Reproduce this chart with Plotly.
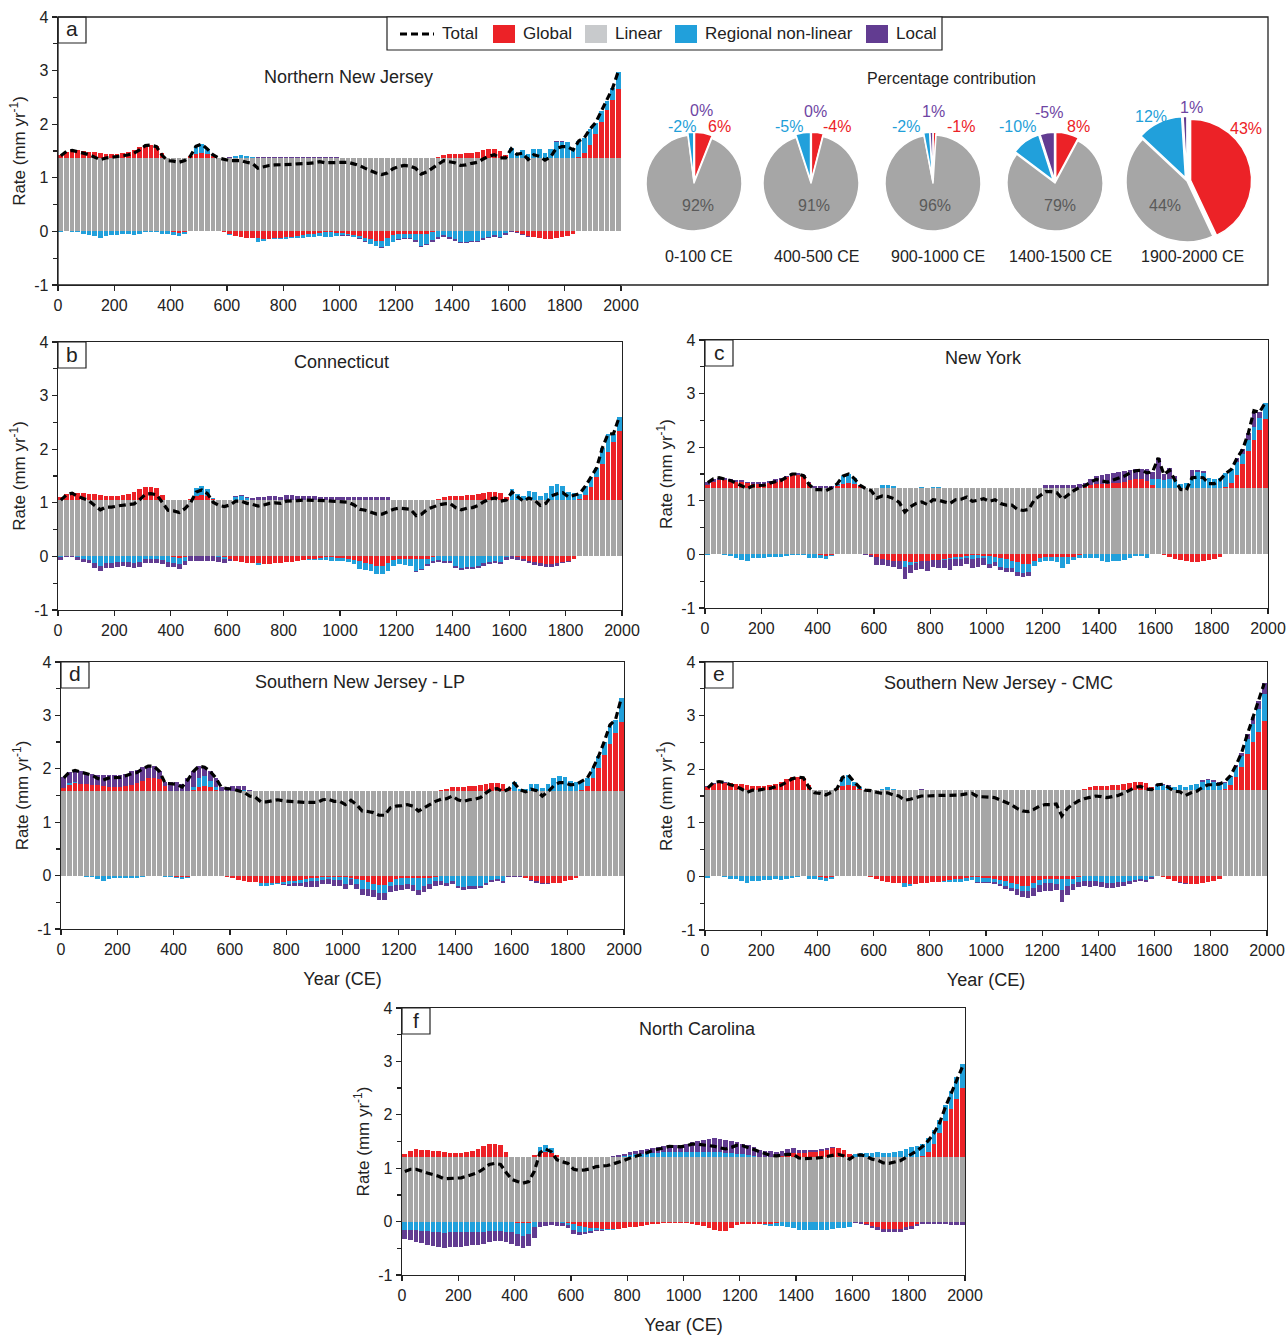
import plotly.graph_objects as go

W, H = 1288, 1336
FONT = "Liberation Sans, Arial, Helvetica, sans-serif"
TXT = "#222222"
C_GLOBAL = "#ec2227"
C_LINEAR = "#a6a6a6"
C_LINEAR_KEY = "#c8cacc"
C_REGIONAL = "#21a0db"
C_LOCAL = "#623c91"

# ---------------- data ----------------
YEARS = list(range(10, 2000, 20))          # 20-yr bin centres, 0-2000 CE
XTICKS = list(range(0, 2001, 200))
YTICKS = [-1, 0, 1, 2, 3, 4]
YTICK_TEXT = ["-1", "0", "1", "2", "3", "4"]

# Global component (same for every site), mm/yr
GLOBAL = [
    0.06, 0.12, 0.15, 0.14, 0.13, 0.12, 0.11, 0.09, 0.08, 0.08,
    0.08, 0.09, 0.11, 0.15, 0.20, 0.24, 0.25, 0.23, 0.10, 0.00,
    -0.02, -0.03, -0.02, 0.03, 0.08, 0.10, 0.08, 0.03, 0.00, -0.02,
    -0.05, -0.09, -0.11, -0.12, -0.12, -0.13, -0.14, -0.14, -0.13, -0.12,
    -0.11, -0.10, -0.08, -0.07, -0.05, -0.04, -0.03, -0.02, -0.02, -0.03,
    -0.03, -0.04, -0.06, -0.09, -0.12, -0.15, -0.17, -0.17, -0.12, -0.06,
    -0.04, -0.04, -0.04, -0.04, -0.04, -0.04, -0.02, 0.02, 0.05, 0.07,
    0.08, 0.08, 0.09, 0.10, 0.12, 0.14, 0.16, 0.16, 0.13, 0.06,
    0.00, -0.01, -0.04, -0.08, -0.11, -0.13, -0.14, -0.14, -0.13, -0.11,
    -0.08, -0.04, 0.02, 0.10, 0.25, 0.44, 0.68, 0.89, 1.09, 1.29,
]

# (a) Northern New Jersey
LINEAR_A = 1.37
REG_A = [
    -0.02, 0.00, -0.01, -0.02, -0.04, -0.06, -0.09, -0.12, -0.08, -0.07,
    -0.06, -0.05, -0.05, -0.06, -0.05, -0.01, -0.01, -0.02, -0.05, -0.05,
    -0.04, -0.05, -0.03, 0.00, 0.14, 0.16, 0.09, 0.03, 0.00, 0.00,
    -0.01, 0.03, 0.05, 0.03, 0.01, -0.07, -0.03, -0.01, -0.01, -0.02,
    -0.03, -0.03, -0.04, -0.05, -0.06, -0.06, -0.05, -0.08, -0.08, -0.06,
    -0.04, -0.03, -0.04, -0.04, -0.06, -0.08, -0.10, -0.13, -0.15, -0.13,
    -0.11, -0.09, -0.08, -0.12, -0.23, -0.19, -0.14, -0.11, -0.07, -0.11,
    -0.14, -0.19, -0.19, -0.17, -0.17, -0.13, -0.10, -0.07, -0.10, -0.03,
    0.19, 0.10, 0.15, 0.07, 0.17, 0.16, 0.10, 0.16, 0.29, 0.30,
    0.29, 0.19, 0.30, 0.28, 0.29, 0.22, 0.20, 0.18, 0.21, 0.32,
]
LOC_A = [
    0.00, 0.00, 0.00, 0.00, 0.00, 0.00, 0.00, 0.00, 0.00, 0.00,
    0.00, 0.00, 0.00, 0.00, 0.00, 0.00, 0.00, 0.00, 0.00, 0.00,
    0.00, 0.00, 0.00, 0.00, 0.00, 0.00, 0.00, 0.00, 0.00, 0.00,
    0.01, 0.01, 0.01, 0.01, 0.01, 0.01, 0.01, 0.01, 0.01, 0.01,
    0.01, 0.01, 0.01, 0.01, 0.01, 0.01, 0.01, 0.01, 0.01, 0.01,
    -0.01, -0.01, -0.01, -0.01, -0.01, -0.01, -0.01, -0.01, -0.01, -0.01,
    -0.01, -0.01, -0.03, -0.03, -0.03, -0.03, -0.03, -0.03, -0.03, -0.03,
    -0.03, -0.03, -0.03, -0.03, -0.03, -0.03, -0.03, -0.03, -0.03, -0.03,
    -0.02, -0.02, -0.02, -0.02, 0.00, 0.00, 0.00, 0.00, 0.02, 0.02,
    0.00, 0.00, 0.00, 0.00, 0.00, 0.00, 0.00, 0.00, 0.00, 0.00,
]

# (b) Connecticut
LINEAR_B = 1.05
REG_B = [
    -0.02, 0.00, 0.00, -0.02, -0.04, -0.06, -0.13, -0.17, -0.12, -0.12,
    -0.11, -0.10, -0.11, -0.13, -0.10, -0.05, -0.05, -0.05, -0.06, -0.11,
    -0.10, -0.12, -0.06, 0.00, 0.15, 0.17, 0.12, 0.01, -0.02, -0.02,
    0.00, 0.05, 0.07, 0.04, 0.01, -0.03, -0.01, 0.01, 0.00, 0.00,
    0.01, -0.01, 0.00, 0.00, -0.02, -0.03, -0.03, -0.05, -0.06, -0.06,
    -0.06, -0.06, -0.09, -0.14, -0.13, -0.13, -0.15, -0.15, -0.16, -0.11,
    -0.11, -0.12, -0.13, -0.23, -0.20, -0.10, -0.07, -0.07, -0.08, -0.09,
    -0.17, -0.21, -0.19, -0.19, -0.17, -0.13, -0.10, -0.08, -0.11, -0.02,
    0.20, 0.12, 0.07, 0.17, 0.16, 0.08, 0.13, 0.27, 0.30, 0.27,
    0.16, 0.14, 0.10, 0.16, 0.19, 0.16, 0.29, 0.34, 0.15, 0.26,
]
LOC_B = [
    -0.04, -0.02, -0.02, -0.05, -0.06, -0.07, -0.08, -0.10, -0.09, -0.09,
    -0.08, -0.08, -0.08, -0.09, -0.09, -0.08, -0.08, -0.08, -0.08, -0.08,
    -0.08, -0.08, -0.08, -0.08, -0.08, -0.08, -0.08, -0.08, -0.08, -0.08,
    -0.04, 0.02, 0.02, 0.02, 0.03, 0.05, 0.06, 0.07, 0.08, 0.06,
    0.08, 0.09, 0.07, 0.07, 0.07, 0.07, 0.06, 0.06, 0.06, 0.06,
    0.06, 0.06, 0.06, 0.06, 0.06, 0.06, 0.06, 0.06, 0.06, 0.00,
    0.00, 0.00, 0.00, -0.02, -0.02, -0.03, -0.04, -0.04, -0.04, -0.04,
    -0.05, -0.05, -0.05, -0.05, -0.05, -0.04, -0.04, -0.04, -0.04, -0.04,
    -0.05, -0.05, -0.05, -0.05, -0.05, -0.05, -0.05, -0.05, -0.05, -0.02,
    -0.02, -0.01, 0.00, 0.00, 0.00, 0.00, 0.00, 0.00, 0.00, 0.00,
]

# (c) New York
LINEAR_C = 1.24
REG_C = [
    -0.02, 0.00, 0.00, -0.02, -0.03, -0.06, -0.10, -0.13, -0.07, -0.07,
    -0.06, -0.04, -0.04, -0.05, -0.03, -0.01, -0.01, -0.02, -0.06, -0.06,
    -0.04, -0.05, -0.01, 0.03, 0.14, 0.16, 0.10, 0.02, 0.00, 0.00,
    0.00, 0.05, 0.06, 0.03, 0.00, -0.10, -0.05, -0.02, 0.02, 0.00,
    0.01, 0.02, -0.02, -0.02, -0.03, -0.04, -0.03, -0.06, -0.05, -0.04,
    -0.14, -0.10, -0.17, -0.16, -0.13, -0.18, -0.17, -0.15, -0.10, -0.09,
    -0.08, -0.08, -0.10, -0.22, -0.14, -0.06, -0.04, -0.06, -0.06, -0.06,
    -0.12, -0.15, -0.13, -0.12, -0.10, -0.06, -0.03, -0.03, -0.07, 0.10,
    0.16, 0.14, 0.17, 0.17, 0.08, 0.09, 0.19, 0.30, 0.27, 0.19,
    0.16, 0.19, 0.25, 0.25, 0.23, 0.20, 0.22, 0.25, 0.22, 0.30,
]
LOC_C = [
    0.06, 0.05, 0.04, 0.04, 0.04, 0.03, 0.03, 0.03, 0.03, 0.03,
    0.03, 0.04, 0.05, 0.04, 0.03, 0.03, 0.02, 0.02, 0.02, 0.03,
    0.03, 0.03, 0.03, 0.02, 0.00, 0.00, 0.00, 0.00, -0.01, -0.03,
    -0.14, -0.11, -0.11, -0.11, -0.15, -0.22, -0.16, -0.13, -0.15, -0.19,
    -0.12, -0.15, -0.16, -0.20, -0.14, -0.13, -0.11, -0.17, -0.16, -0.13,
    -0.08, -0.08, -0.06, -0.07, -0.07, -0.07, -0.08, -0.08, 0.00, 0.00,
    0.05, 0.05, 0.05, 0.05, 0.05, 0.05, 0.07, 0.08, 0.12, 0.15,
    0.17, 0.18, 0.19, 0.20, 0.20, 0.20, 0.19, 0.20, 0.22, 0.14,
    0.40, 0.12, 0.20, 0.05, 0.00, 0.00, 0.14, 0.04, 0.05, 0.00,
    0.00, 0.00, 0.00, 0.00, 0.08, 0.08, 0.12, 0.30, 0.10, 0.00,
]

# (d) Southern New Jersey - LP
LINEAR_D = 1.58
REG_D = [
    -0.01, 0.03, 0.03, -0.01, -0.02, -0.03, -0.07, -0.10, -0.06, -0.05,
    -0.05, -0.04, -0.04, -0.05, -0.03, -0.01, -0.01, 0.00, -0.02, -0.03,
    -0.02, -0.03, -0.02, 0.05, 0.16, 0.18, 0.12, 0.04, 0.00, 0.00,
    0.01, 0.02, 0.02, 0.00, 0.00, -0.07, -0.06, -0.04, -0.03, -0.04,
    -0.04, -0.04, -0.05, -0.05, -0.06, -0.07, -0.05, -0.05, -0.07, -0.06,
    -0.12, -0.03, -0.09, -0.16, -0.13, -0.12, -0.15, -0.15, -0.07, -0.12,
    -0.13, -0.11, -0.14, -0.23, -0.15, -0.11, -0.09, -0.11, -0.13, -0.10,
    -0.19, -0.22, -0.20, -0.20, -0.20, -0.13, -0.08, -0.07, -0.11, 0.00,
    0.17, 0.05, 0.04, 0.14, 0.14, 0.06, 0.14, 0.24, 0.29, 0.27,
    0.20, 0.17, 0.17, 0.15, 0.18, 0.22, 0.25, 0.35, 0.25, 0.45,
]
LOC_D = [
    0.20, 0.21, 0.21, 0.23, 0.22, 0.21, 0.20, 0.22, 0.23, 0.23,
    0.23, 0.24, 0.26, 0.25, 0.25, 0.24, 0.23, 0.14, 0.07, 0.17,
    0.17, 0.14, 0.25, 0.29, 0.23, 0.17, 0.17, 0.18, 0.07, 0.07,
    0.08, 0.08, 0.07, 0.03, 0.01, 0.00, 0.00, 0.00, 0.00, -0.02,
    -0.04, -0.06, -0.07, -0.09, -0.10, -0.10, -0.08, -0.08, -0.10, -0.10,
    -0.10, -0.10, -0.10, -0.12, -0.13, -0.13, -0.13, -0.13, -0.12, -0.10,
    -0.10, -0.10, -0.10, -0.10, -0.12, -0.10, -0.08, -0.06, -0.06, -0.06,
    -0.05, -0.05, -0.05, -0.05, -0.04, -0.04, -0.04, -0.04, -0.03, -0.02,
    -0.02, -0.01, -0.01, -0.02, -0.02, -0.02, -0.01, 0.00, 0.00, 0.00,
    0.00, 0.00, 0.00, 0.00, 0.00, 0.00, 0.00, 0.00, 0.00, 0.00,
]

# (e) Southern New Jersey - CMC
LINEAR_E = 1.61
REG_E = [
    -0.03, 0.00, 0.00, -0.01, -0.04, -0.05, -0.09, -0.13, -0.08, -0.08,
    -0.06, -0.06, -0.05, -0.06, -0.05, -0.03, -0.01, 0.00, -0.05, -0.05,
    -0.04, -0.06, -0.02, 0.00, 0.16, 0.18, 0.08, 0.02, 0.00, 0.00,
    0.00, 0.02, 0.05, 0.02, 0.00, -0.07, -0.04, -0.01, 0.01, 0.00,
    0.00, -0.01, -0.03, -0.04, -0.06, -0.06, -0.05, -0.05, -0.08, -0.07,
    -0.08, -0.07, -0.08, -0.09, -0.09, -0.09, -0.10, -0.10, -0.10, -0.10,
    -0.09, -0.09, -0.10, -0.22, -0.14, -0.10, -0.08, -0.08, -0.09, -0.08,
    -0.10, -0.12, -0.12, -0.11, -0.10, -0.08, -0.06, -0.05, -0.07, -0.02,
    0.08, 0.10, 0.08, 0.06, 0.10, 0.05, 0.10, 0.12, 0.16, 0.18,
    0.16, 0.14, 0.12, 0.15, 0.18, 0.20, 0.28, 0.35, 0.42, 0.50,
]
LOC_E = [
    0.01, 0.02, 0.01, 0.01, 0.01, 0.00, 0.00, 0.00, 0.00, 0.00,
    0.00, 0.00, 0.00, 0.00, 0.00, 0.00, 0.00, 0.00, 0.00, 0.00,
    0.00, 0.00, 0.00, 0.00, 0.00, 0.00, 0.00, 0.00, 0.00, 0.01,
    0.01, 0.01, 0.01, 0.01, 0.01, 0.01, 0.01, 0.01, 0.01, 0.01,
    0.01, 0.01, 0.01, 0.01, 0.01, 0.01, 0.01, 0.01, -0.02, -0.02,
    -0.02, -0.03, -0.04, -0.05, -0.06, -0.10, -0.12, -0.13, -0.14, -0.14,
    -0.14, -0.14, -0.12, -0.22, -0.16, -0.12, -0.10, -0.10, -0.10, -0.10,
    -0.10, -0.10, -0.09, -0.09, -0.08, -0.06, -0.05, -0.04, -0.04, -0.03,
    0.02, 0.02, 0.01, 0.00, -0.02, -0.02, -0.01, 0.00, 0.02, 0.03,
    0.02, 0.01, 0.02, 0.02, 0.04, 0.06, 0.08, 0.12, 0.16, 0.20,
]

# (f) North Carolina
LINEAR_F = 1.21
REG_F = [
    -0.15, -0.15, -0.16, -0.17, -0.18, -0.19, -0.20, -0.22, -0.20, -0.20,
    -0.20, -0.19, -0.19, -0.20, -0.20, -0.18, -0.17, -0.17, -0.19, -0.20,
    -0.22, -0.24, -0.22, -0.10, 0.10, 0.13, 0.08, 0.00, -0.03, -0.05,
    -0.10, -0.10, -0.08, -0.06, -0.04, -0.03, -0.02, -0.01, 0.00, 0.02,
    0.04, 0.05, 0.06, 0.07, 0.08, 0.08, 0.09, 0.10, 0.10, 0.10,
    0.10, 0.10, 0.10, 0.10, 0.10, 0.10, 0.09, 0.08, 0.07, 0.06,
    0.05, 0.04, 0.02, 0.00, -0.02, -0.04, -0.06, -0.08, -0.10, -0.12,
    -0.15, -0.16, -0.16, -0.16, -0.16, -0.15, -0.14, -0.12, -0.12, -0.10,
    0.05, 0.08, 0.08, 0.08, 0.10, 0.08, 0.08, 0.10, 0.12, 0.15,
    0.18, 0.20, 0.22, 0.25, 0.25, 0.25, 0.30, 0.35, 0.40, 0.45,
]
LOC_F = [
    -0.18, -0.20, -0.22, -0.24, -0.25, -0.26, -0.27, -0.28, -0.28, -0.28,
    -0.27, -0.26, -0.25, -0.24, -0.22, -0.20, -0.20, -0.20, -0.20, -0.22,
    -0.22, -0.22, -0.22, -0.20, -0.10, -0.08, -0.06, -0.08, -0.06, -0.05,
    -0.08, -0.06, -0.05, -0.04, -0.02, -0.01, 0.00, 0.02, 0.03, 0.04,
    0.05, 0.06, 0.07, 0.08, 0.09, 0.10, 0.11, 0.12, 0.12, 0.12,
    0.14, 0.18, 0.20, 0.22, 0.24, 0.25, 0.25, 0.24, 0.23, 0.22,
    0.20, 0.18, 0.16, 0.14, 0.12, 0.11, 0.10, 0.10, 0.10, 0.10,
    0.05, 0.05, 0.04, 0.04, 0.03, 0.02, 0.02, 0.01, 0.01, 0.00,
    -0.02, -0.03, -0.03, -0.04, -0.05, -0.06, -0.06, -0.06, -0.06, -0.05,
    -0.05, -0.04, -0.04, -0.04, -0.05, -0.05, -0.05, -0.06, -0.06, -0.06,
]

# Pie charts (percentage contribution, panel a)
PIE_PERIODS = ["0-100 CE", "400-500 CE", "900-1000 CE", "1400-1500 CE", "1900-2000 CE"]
PIE_GLOBAL = [6, -4, -1, 8, 43]
PIE_LINEAR = [92, 91, 96, 79, 44]
PIE_REGIONAL = [-2, -5, -2, -10, 12]
PIE_LOCAL = [0, 0, 1, -5, 1]


# ---------------- helpers ----------------
def X(px):
    return px / W


def Y(py):
    return 1 - py / H


PANELS = [
    dict(letter="a", title="Northern New Jersey", lin=LINEAR_A, reg=REG_A, loc=LOC_A,
         box=(58, 621, 17, 285), tpos=(348, 77), xtitle=False),
    dict(letter="b", title="Connecticut", lin=LINEAR_B, reg=REG_B, loc=LOC_B,
         box=(58, 622, 342, 610), tpos=(341, 362), xtitle=False),
    dict(letter="c", title="New York", lin=LINEAR_C, reg=REG_C, loc=LOC_C,
         box=(705, 1268, 340, 608), tpos=(983, 358), xtitle=False),
    dict(letter="d", title="Southern New Jersey - LP", lin=LINEAR_D, reg=REG_D, loc=LOC_D,
         box=(61, 624, 662, 929), tpos=(360, 682), xtitle=True),
    dict(letter="e", title="Southern New Jersey - CMC", lin=LINEAR_E, reg=REG_E, loc=LOC_E,
         box=(705, 1267, 662, 930), tpos=(998, 683), xtitle=True),
    dict(letter="f", title="North Carolina", lin=LINEAR_F, reg=REG_F, loc=LOC_F,
         box=(402, 965, 1008, 1275), tpos=(697, 1029), xtitle=True),
]

fig = go.Figure()
shapes = []
annotations = []
layout_axes = {}

for i, p in enumerate(PANELS, start=1):
    xs = "x" if i == 1 else f"x{i}"
    ys = "y" if i == 1 else f"y{i}"
    n = len(YEARS)
    lin = [p["lin"]] * n
    total = [p["lin"] + g + r + l for g, r, l in zip(GLOBAL, p["reg"], p["loc"])]
    for name, vals, col in [("Linear", lin, C_LINEAR), ("Global", GLOBAL, C_GLOBAL),
                            ("Regional non-linear", p["reg"], C_REGIONAL),
                            ("Local", p["loc"], C_LOCAL)]:
        fig.add_trace(go.Bar(x=YEARS, y=vals, width=16.5, name=name,
                             marker=dict(color=col, line=dict(width=0)),
                             xaxis=xs, yaxis=ys, showlegend=False, hoverinfo="skip"))
    fig.add_trace(go.Scatter(x=YEARS, y=total, mode="lines", name="Total",
                             line=dict(color="black", width=3.2, dash="7px,4px"),
                             xaxis=xs, yaxis=ys, showlegend=False, hoverinfo="skip"))

    x0, x1, y0, y1 = p["box"]
    mirror = p["letter"] != "a"
    xkey = "xaxis" if i == 1 else f"xaxis{i}"
    ykey = "yaxis" if i == 1 else f"yaxis{i}"
    xa = dict(
        domain=[X(x0), X(x1)], range=[0, 2000], anchor=ys, automargin=False,
        tickmode="array", tickvals=XTICKS, ticks="outside", ticklen=5, tickwidth=1.2,
        tickcolor=TXT, showline=True, linecolor=TXT, linewidth=1.3, mirror=mirror,
        showgrid=False, zeroline=False, tickfont=dict(size=16, color=TXT, family=FONT),
    )
    if p["xtitle"]:
        xa["title"] = dict(text="Year (CE)", standoff=16,
                           font=dict(size=18, color=TXT, family=FONT))
    layout_axes[xkey] = xa
    layout_axes[ykey] = dict(
        domain=[Y(y1), Y(y0)], range=[-1, 4], anchor=xs, automargin=False,
        tickmode="array", tickvals=YTICKS, ticktext=YTICK_TEXT, ticks="outside",
        ticklen=5, tickwidth=1.2, tickcolor=TXT,
        minor=dict(tickvals=[-0.5, 0.5, 1.5, 2.5, 3.5], ticks="outside", ticklen=4,
                   tickwidth=1.2, tickcolor=TXT, showgrid=False),
        showline=True, linecolor=TXT, linewidth=1.3, mirror=mirror,
        showgrid=False, zeroline=False, tickfont=dict(size=16, color=TXT, family=FONT),
        title=dict(text="Rate (mm yr<sup>-1</sup>)", standoff=4,
                   font=dict(size=17, color=TXT, family=FONT)),
    )
    # panel letter box
    shapes.append(dict(type="rect", xref="paper", yref="paper",
                       x0=X(x0), x1=X(x0 + 28), y0=Y(y0 + 26), y1=Y(y0),
                       line=dict(color=TXT, width=1.2), fillcolor="white", layer="above"))
    annotations.append(dict(x=X(x0 + 14), y=Y(y0 + 12), xref="paper", yref="paper",
                            text=p["letter"], showarrow=False,
                            font=dict(size=21, color=TXT, family=FONT),
                            xanchor="center", yanchor="middle"))
    # panel title
    annotations.append(dict(x=X(p["tpos"][0]), y=Y(p["tpos"][1]), xref="paper", yref="paper",
                            text=p["title"], showarrow=False,
                            font=dict(size=18, color=TXT, family=FONT),
                            xanchor="center", yanchor="middle"))

# big frame of panel a (includes pie area)
shapes.append(dict(type="rect", xref="paper", yref="paper",
                   x0=X(58), x1=X(1268), y0=Y(285), y1=Y(17),
                   line=dict(color=TXT, width=1.3), fillcolor="rgba(0,0,0,0)", layer="above"))

# ---------------- legend (drawn) ----------------
shapes.append(dict(type="rect", xref="paper", yref="paper", x0=X(387), x1=X(942),
                   y0=Y(50), y1=Y(17), line=dict(color=TXT, width=1.2),
                   fillcolor="white", layer="above"))
shapes.append(dict(type="line", xref="paper", yref="paper", x0=X(400), x1=X(434),
                   y0=Y(34), y1=Y(34), line=dict(color="black", width=3, dash="7px,4px"),
                   layer="above"))
legend_items = [("Total", None, 440), ("Global", C_GLOBAL, 493), ("Linear", C_LINEAR_KEY, 585),
                ("Regional non-linear", C_REGIONAL, 675), ("Local", C_LOCAL, 866)]
for label, col, lx in legend_items:
    tx = lx
    if col is not None:
        shapes.append(dict(type="rect", xref="paper", yref="paper", x0=X(lx), x1=X(lx + 22),
                           y0=Y(43), y1=Y(25), line=dict(width=0), fillcolor=col, layer="above"))
        tx = lx + 28
    annotations.append(dict(x=X(tx), y=Y(34), xref="paper", yref="paper", text=label,
                            showarrow=False, xanchor="left", yanchor="middle",
                            font=dict(size=17, color=TXT, family=FONT)))

# ---------------- pies ----------------
PIE_GEOM = [(694, 183, 48), (811, 183, 48), (933, 183, 48), (1055, 183, 48), (1187, 181, 61)]
# label offsets (px from pie centre) for global, linear, regional, local
LABEL_OFF = [
    [(26, -56), (4, 22), (-12, -56), (8, -73)],
    [(26, -56), (3, 22), (-22, -56), (4, -72)],
    [(28, -56), (2, 22), (-27, -56), (0, -72)],
    [(23, -56), (5, 22), (-38, -56), (-6, -71)],
    [(59, -52), (-22, 24), (-36, -64), (4, -74)],
]
PULL = 0.06
label_cols = [C_GLOBAL, "#5a5a5a", "#1f9fd9", "#6e45a3"]
for k, (cx, cy, r) in enumerate(PIE_GEOM):
    comps = [PIE_GLOBAL[k], PIE_LINEAR[k], PIE_REGIONAL[k], PIE_LOCAL[k]]
    half = r * (1 + PULL)
    fig.add_trace(go.Pie(
        values=[abs(v) for v in comps], labels=["Global", "Linear", "Regional non-linear", "Local"],
        marker=dict(colors=[C_GLOBAL, C_LINEAR, C_REGIONAL, C_LOCAL],
                    line=dict(color="white", width=1.5)),
        domain=dict(x=[X(cx - half), X(cx + half)], y=[Y(cy + half), Y(cy - half)]),
        sort=False, direction="clockwise", rotation=0, pull=[PULL, 0, PULL, PULL],
        textinfo="none", hoverinfo="skip", showlegend=False, automargin=False))
    for j, v in enumerate(comps):
        dx, dy = LABEL_OFF[k][j]
        annotations.append(dict(x=X(cx + dx), y=Y(cy + dy), xref="paper", yref="paper",
                                text=f"{v}%", showarrow=False, xanchor="center", yanchor="middle",
                                font=dict(size=16, color=label_cols[j], family=FONT)))
    annotations.append(dict(x=X(cx + 5), y=Y(257), xref="paper", yref="paper",
                            text=PIE_PERIODS[k], showarrow=False, xanchor="center",
                            yanchor="middle", font=dict(size=16, color=TXT, family=FONT)))

annotations.append(dict(x=X(951), y=Y(78), xref="paper", yref="paper",
                        text="Percentage contribution", showarrow=False, xanchor="center",
                        yanchor="middle", font=dict(size=16, color=TXT, family=FONT)))

fig.update_layout(
    width=W, height=H, autosize=False,
    margin=dict(l=0, r=0, t=0, b=0, pad=0, autoexpand=False),
    paper_bgcolor="white", plot_bgcolor="white",
    barmode="relative", bargap=0,
    font=dict(family=FONT, color=TXT),
    shapes=shapes, annotations=annotations,
    showlegend=False,
    **layout_axes,
)

fig.write_html(
    "out.html",
    config={"displayModeBar": False, "staticPlot": True},
    post_script="document.body.style.margin='0';document.body.style.padding='0';"
                "document.documentElement.style.overflow='hidden';",
)
